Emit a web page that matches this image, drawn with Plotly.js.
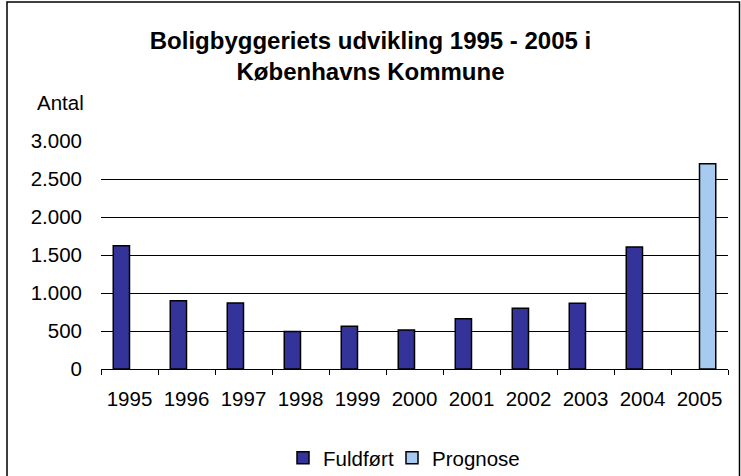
<!DOCTYPE html>
<html>
<head>
<meta charset="utf-8">
<script src="https://cdn.plot.ly/plotly-3.0.1.min.js"></script>
<style>html,body{margin:0;padding:0;background:#fff;}</style>
</head>
<body>
<div id="chart" style="width:741px;height:476px;"></div>
<script>
const years = ['1995','1996','1997','1998','1999','2000','2001','2002','2003','2004','2005'];
const fuldfoert = [1623, 899, 868, 495, 561, 513, 662, 798, 864, 1605, null];
const prognose = [null, null, null, null, null, null, null, null, null, null, 2702];
const seriesNames = ['Fuldført', 'Prognose'];
const titleText = 'Boligbyggeriets udvikling 1995 - 2005 i<br>Københavns Kommune';
const yLabel = 'Antal';

const font = {family: '"Liberation Sans", Arial, sans-serif', size: 20.5, color: '#000'};

const traces = [
  {type: 'bar', name: seriesNames[0], x: years, y: fuldfoert, legend: 'legend',
   marker: {color: '#333399', line: {color: '#000', width: 1.5}}},
  {type: 'bar', name: seriesNames[1], x: years, y: prognose, legend: 'legend2',
   marker: {color: '#A6CAF0', line: {color: '#000', width: 1.5}}}
];

const L = 101, R = 13, T = 141, B = 107, W = 741, H = 476;
const pw = W - L - R, ph = H - T - B;
const px = v => (v - L) / pw;
const py = v => (H - B - v) / ph;

const legendBase = {orientation: 'h', xanchor: 'left', y: py(458), yanchor: 'middle',
                    font: font, itemwidth: 30, bgcolor: 'rgba(0,0,0,0)'};

const layout = {
  width: W, height: H,
  margin: {l: L, r: R, t: T, b: B, pad: 0, autoexpand: false},
  paper_bgcolor: '#fff', plot_bgcolor: '#fff',
  font: font,
  separators: ',.',
  title: {text: titleText, font: {family: font.family, size: 24, color: '#000', weight: 'bold'},
          x: 0.5, xref: 'container', xanchor: 'center', y: 1 - 49 / H, yref: 'container', yanchor: 'middle'},
  barmode: 'group', bargap: 0.43, bargroupgap: 0,
  showlegend: true,
  legend: Object.assign({}, legendBase, {x: px(283)}),
  legend2: Object.assign({}, legendBase, {x: px(392)}),
  xaxis: {type: 'category', showline: true, linecolor: '#000', linewidth: 1,
          ticks: 'outside', tickson: 'boundaries', ticklen: 5, tickcolor: '#000', tickwidth: 1,
          showgrid: false, ticklabelstandoff: 11, tickfont: font, fixedrange: true},
  yaxis: {range: [0, 3000], dtick: 500, tick0: 0, tickformat: ',d', showline: false,
          showgrid: true, gridcolor: '#000', gridwidth: 1, zeroline: false,
          ticks: '', ticklabelstandoff: 18, tickfont: font, fixedrange: true},
  annotations: [
    {text: yLabel, xref: 'paper', yref: 'paper', x: px(86), y: py(103), xanchor: 'right', yanchor: 'middle',
     showarrow: false, font: font}
  ],
  shapes: [
    {type: 'rect', xref: 'paper', yref: 'paper', x0: px(7), x1: px(739.5), y0: py(490), y1: py(2),
     line: {color: '#000', width: 1.5}, fillcolor: 'rgba(0,0,0,0)', layer: 'below'}
  ]
};

Plotly.newPlot('chart', traces, layout, {displayModeBar: false, staticPlot: true});
</script>
</body>
</html>
